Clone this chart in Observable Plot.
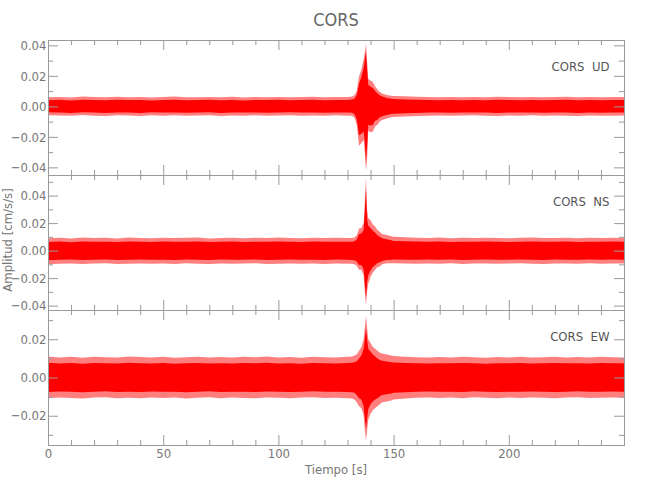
<!DOCTYPE html>
<html><head><meta charset="utf-8">
<script src="https://cdn.jsdelivr.net/npm/d3@7"></script>
<script src="https://cdn.jsdelivr.net/npm/@observablehq/plot@0.6"></script>
<style>
body{margin:0;background:#fff;}
#wrap{position:relative;width:650px;height:500px;overflow:hidden;font-family:"DejaVu Sans",sans-serif;font-stretch:condensed;color:#777;}
.pnl{position:absolute;left:0;}
#title{position:absolute;left:48px;width:576px;top:10px;line-height:20px;text-align:center;font-size:18px;color:#666;}
#xlab{position:absolute;left:48px;width:576px;top:462px;line-height:16px;text-align:center;font-size:13px;color:#777;}
#ylab{position:absolute;left:-92px;width:200px;top:232px;line-height:16px;text-align:center;font-size:13px;color:#777;transform:rotate(-90deg);}
svg text{white-space:pre;font-stretch:condensed;}
</style></head>
<body><div id="wrap">
<div id="title">CORS</div>
<div id="ylab">Amplitud [cm/s/s]</div>
<div id="xlab">Tiempo [s]</div>
</div>
<script>
// time samples (s) of the amplitude envelopes
const time = [0,5,10,15,20,25,30,35,40,45,50,55,60,65,70,75,80,85,90,95,100,105,110,115,120,125,130,
  132,133,134,135,136,137,137.5,138,138.5,139,140,141,142,143,144,145,147,149,
  150,155,160,165,170,175,180,185,190,195,200,205,210,215,220,225,230,235,240,245,250];

// UD component: outer envelope (upper/lower) and dense core envelope
const udHi = [0.0060,0.0062,0.0058,0.0064,0.0061,0.0059,0.0063,0.0060,0.0062,0.0058,0.0061,0.0064,0.0060,0.0059,0.0062,0.0060,0.0063,0.0058,0.0061,0.0060,0.0062,0.0059,0.0061,0.0063,0.0060,0.0062,0.0061,
  0.0065,0.0072,0.0100,0.0195,0.0240,0.0310,0.0350,0.0410,0.0300,0.0180,0.0170,0.0160,0.0130,0.0110,0.0095,0.0085,0.0075,0.0070,
  0.0068,0.0066,0.0063,0.0061,0.0060,0.0062,0.0059,0.0061,0.0060,0.0063,0.0061,0.0059,0.0062,0.0060,0.0061,0.0063,0.0060,0.0062,0.0059,0.0061,0.0062];
const udLo = [-0.0058,-0.0060,-0.0062,-0.0057,-0.0061,-0.0063,-0.0059,-0.0060,-0.0064,-0.0058,-0.0061,-0.0059,-0.0062,-0.0060,-0.0058,-0.0063,-0.0060,-0.0061,-0.0059,-0.0062,-0.0060,-0.0058,-0.0061,-0.0060,-0.0062,-0.0059,-0.0061,
  -0.0062,-0.0075,-0.0120,-0.0260,-0.0240,-0.0220,-0.0300,-0.0420,-0.0350,-0.0160,-0.0170,-0.0165,-0.0130,-0.0120,-0.0100,-0.0090,-0.0080,-0.0072,
  -0.0070,-0.0066,-0.0064,-0.0061,-0.0060,-0.0062,-0.0060,-0.0059,-0.0061,-0.0063,-0.0060,-0.0061,-0.0059,-0.0062,-0.0060,-0.0061,-0.0063,-0.0060,-0.0062,-0.0061,-0.0060];
const udCoreHi = [0.0040,0.0043,0.0039,0.0044,0.0041,0.0040,0.0043,0.0041,0.0042,0.0039,0.0041,0.0044,0.0040,0.0041,0.0043,0.0040,0.0042,0.0039,0.0041,0.0042,0.0043,0.0040,0.0041,0.0044,0.0040,0.0042,0.0041,
  0.0045,0.0050,0.0075,0.0150,0.0190,0.0250,0.0300,0.0360,0.0240,0.0140,0.0130,0.0120,0.0100,0.0085,0.0072,0.0065,0.0055,0.0050,
  0.0048,0.0045,0.0043,0.0041,0.0040,0.0042,0.0040,0.0041,0.0040,0.0043,0.0041,0.0040,0.0042,0.0040,0.0041,0.0043,0.0040,0.0042,0.0040,0.0041,0.0042];
const udCoreLo = [-0.0039,-0.0041,-0.0043,-0.0038,-0.0041,-0.0043,-0.0040,-0.0041,-0.0044,-0.0039,-0.0041,-0.0040,-0.0042,-0.0041,-0.0039,-0.0043,-0.0040,-0.0041,-0.0040,-0.0042,-0.0041,-0.0039,-0.0041,-0.0040,-0.0042,-0.0040,-0.0041,
  -0.0042,-0.0050,-0.0085,-0.0190,-0.0180,-0.0165,-0.0230,-0.0360,-0.0260,-0.0120,-0.0125,-0.0120,-0.0095,-0.0088,-0.0072,-0.0065,-0.0057,-0.0050,
  -0.0049,-0.0045,-0.0043,-0.0041,-0.0040,-0.0042,-0.0040,-0.0040,-0.0041,-0.0043,-0.0040,-0.0041,-0.0040,-0.0042,-0.0040,-0.0041,-0.0043,-0.0040,-0.0042,-0.0041,-0.0040];

// NS component
const nsHi = [0.0090,0.0094,0.0088,0.0095,0.0091,0.0093,0.0089,0.0096,0.0092,0.0090,0.0094,0.0091,0.0093,0.0095,0.0089,0.0092,0.0094,0.0090,0.0093,0.0091,0.0095,0.0092,0.0090,0.0094,0.0091,0.0093,0.0092,
  0.0092,0.0096,0.0110,0.0160,0.0165,0.0200,0.0350,0.0530,0.0300,0.0235,0.0220,0.0190,0.0175,0.0150,0.0138,0.0120,0.0114,0.0105,
  0.0100,0.0097,0.0094,0.0092,0.0095,0.0090,0.0093,0.0091,0.0094,0.0092,0.0090,0.0093,0.0095,0.0091,0.0092,0.0094,0.0090,0.0093,0.0091,0.0094,0.0092];
const nsLo = [-0.0100,-0.0096,-0.0093,-0.0098,-0.0094,-0.0092,-0.0097,-0.0095,-0.0093,-0.0096,-0.0094,-0.0098,-0.0092,-0.0095,-0.0097,-0.0093,-0.0096,-0.0094,-0.0092,-0.0097,-0.0095,-0.0093,-0.0096,-0.0094,-0.0097,-0.0093,-0.0095,
  -0.0095,-0.0100,-0.0110,-0.0140,-0.0140,-0.0180,-0.0300,-0.0395,-0.0300,-0.0240,-0.0190,-0.0160,-0.0140,-0.0120,-0.0116,-0.0100,-0.0092,-0.0092,
  -0.0092,-0.0094,-0.0096,-0.0093,-0.0095,-0.0092,-0.0097,-0.0094,-0.0093,-0.0096,-0.0094,-0.0092,-0.0095,-0.0097,-0.0093,-0.0094,-0.0096,-0.0092,-0.0095,-0.0093,-0.0094];
const nsCoreHi = [0.0063,0.0066,0.0061,0.0067,0.0064,0.0065,0.0062,0.0067,0.0064,0.0063,0.0066,0.0064,0.0065,0.0067,0.0062,0.0064,0.0066,0.0063,0.0065,0.0064,0.0067,0.0064,0.0063,0.0066,0.0064,0.0065,0.0064,
  0.0065,0.0068,0.0080,0.0120,0.0125,0.0150,0.0280,0.0450,0.0230,0.0180,0.0165,0.0145,0.0130,0.0112,0.0100,0.0090,0.0082,0.0075,
  0.0070,0.0068,0.0066,0.0064,0.0067,0.0063,0.0065,0.0064,0.0066,0.0064,0.0063,0.0065,0.0067,0.0064,0.0064,0.0066,0.0063,0.0065,0.0064,0.0066,0.0064];
const nsCoreLo = [-0.0070,-0.0067,-0.0065,-0.0069,-0.0066,-0.0064,-0.0068,-0.0067,-0.0065,-0.0067,-0.0066,-0.0069,-0.0064,-0.0067,-0.0068,-0.0065,-0.0067,-0.0066,-0.0064,-0.0068,-0.0067,-0.0065,-0.0067,-0.0066,-0.0068,-0.0065,-0.0067,
  -0.0068,-0.0070,-0.0080,-0.0105,-0.0105,-0.0135,-0.0240,-0.0340,-0.0230,-0.0180,-0.0145,-0.0120,-0.0105,-0.0090,-0.0085,-0.0075,-0.0068,-0.0066,
  -0.0064,-0.0066,-0.0067,-0.0065,-0.0067,-0.0064,-0.0068,-0.0066,-0.0065,-0.0067,-0.0066,-0.0064,-0.0067,-0.0068,-0.0065,-0.0066,-0.0067,-0.0064,-0.0067,-0.0065,-0.0066];

// EW component
const ewHi = [0.0110,0.0105,0.0108,0.0103,0.0109,0.0106,0.0104,0.0110,0.0107,0.0105,0.0108,0.0103,0.0106,0.0109,0.0105,0.0107,0.0104,0.0108,0.0106,0.0110,0.0105,0.0107,0.0103,0.0108,0.0106,0.0104,0.0108,
  0.0110,0.0115,0.0120,0.0140,0.0160,0.0200,0.0260,0.0320,0.0260,0.0200,0.0180,0.0160,0.0150,0.0140,0.0130,0.0125,0.0120,0.0115,
  0.0112,0.0108,0.0106,0.0104,0.0107,0.0105,0.0109,0.0106,0.0103,0.0107,0.0105,0.0108,0.0104,0.0106,0.0109,0.0105,0.0107,0.0104,0.0108,0.0106,0.0105];
const ewLo = [-0.0108,-0.0104,-0.0107,-0.0110,-0.0105,-0.0103,-0.0108,-0.0106,-0.0109,-0.0104,-0.0107,-0.0105,-0.0110,-0.0106,-0.0103,-0.0108,-0.0105,-0.0107,-0.0109,-0.0104,-0.0106,-0.0108,-0.0105,-0.0103,-0.0107,-0.0106,-0.0108,
  -0.0110,-0.0115,-0.0130,-0.0150,-0.0160,-0.0200,-0.0270,-0.0330,-0.0280,-0.0220,-0.0190,-0.0170,-0.0160,-0.0150,-0.0140,-0.0130,-0.0125,-0.0120,
  -0.0115,-0.0110,-0.0106,-0.0104,-0.0107,-0.0105,-0.0108,-0.0103,-0.0106,-0.0109,-0.0105,-0.0107,-0.0104,-0.0106,-0.0108,-0.0105,-0.0103,-0.0107,-0.0106,-0.0104,-0.0106];
const ewCoreHi = [0.0077,0.0073,0.0076,0.0072,0.0076,0.0074,0.0073,0.0077,0.0075,0.0073,0.0076,0.0072,0.0074,0.0076,0.0073,0.0075,0.0073,0.0076,0.0074,0.0077,0.0073,0.0075,0.0072,0.0076,0.0074,0.0073,0.0076,
  0.0077,0.0080,0.0085,0.0100,0.0115,0.0150,0.0200,0.0260,0.0200,0.0150,0.0135,0.0120,0.0110,0.0100,0.0092,0.0088,0.0084,0.0080,
  0.0078,0.0076,0.0074,0.0073,0.0075,0.0074,0.0076,0.0074,0.0072,0.0075,0.0074,0.0076,0.0073,0.0074,0.0076,0.0074,0.0075,0.0073,0.0076,0.0074,0.0074];
const ewCoreLo = [-0.0076,-0.0073,-0.0075,-0.0077,-0.0074,-0.0072,-0.0076,-0.0074,-0.0076,-0.0073,-0.0075,-0.0074,-0.0077,-0.0074,-0.0072,-0.0076,-0.0074,-0.0075,-0.0076,-0.0073,-0.0074,-0.0076,-0.0074,-0.0072,-0.0075,-0.0074,-0.0076,
  -0.0077,-0.0080,-0.0092,-0.0108,-0.0115,-0.0150,-0.0210,-0.0270,-0.0215,-0.0165,-0.0140,-0.0125,-0.0115,-0.0108,-0.0100,-0.0092,-0.0088,-0.0084,
  -0.0080,-0.0077,-0.0074,-0.0073,-0.0075,-0.0074,-0.0076,-0.0072,-0.0074,-0.0076,-0.0074,-0.0075,-0.0073,-0.0074,-0.0076,-0.0074,-0.0072,-0.0075,-0.0074,-0.0073,-0.0074];

// axes
const xDomain = [0, 250];
const xMajor = [0, 50, 100, 150, 200, 250];
const xMinor = d3.range(10, 250, 10).filter(v => v % 50 !== 0);
const xLabels = [0, 50, 100, 150, 200];

const panels = [
  {name: "CORS  UD", hi: udHi, lo: udLo, chi: udCoreHi, clo: udCoreLo, domain: [-0.045, 0.0435],
   major: [-0.04, -0.02, 0, 0.02, 0.04], minor: [-0.03, -0.01, 0.01, 0.03], top: 40},
  {name: "CORS  NS", hi: nsHi, lo: nsLo, chi: nsCoreHi, clo: nsCoreLo, domain: [-0.0432, 0.055],
   major: [-0.04, -0.02, 0, 0.02, 0.04], minor: [-0.03, -0.01, 0.01, 0.03, 0.05], top: 175},
  {name: "CORS  EW", hi: ewHi, lo: ewLo, chi: ewCoreHi, clo: ewCoreLo, domain: [-0.0353, 0.0353],
   major: [-0.02, 0, 0.02], minor: [-0.03, -0.01, 0.01, 0.03], top: 310}
];

const H = 135, ML = 48, MR = 26, W = 650 - ML - MR;
const axisColor = "#9a9a9a";
const wrap = document.getElementById("wrap");

panels.forEach((p, idx) => {
  const last = idx === panels.length - 1;
  const mt = 5, mb = last ? 30 : 5;
  const data = time.map((t, i) => ({t, hi: p.hi[i], lo: p.lo[i], chi: p.chi[i], clo: p.clo[i]}));
  const marks = [
    Plot.areaY(data, {x: "t", y1: "lo", y2: "hi", fill: "#ff0000", fillOpacity: 0.5, clip: true}),
    Plot.areaY(data, {x: "t", y1: "clo", y2: "chi", fill: "#ff0000", clip: true}),
    Plot.frame({stroke: axisColor}),
    Plot.ruleX(xMinor, {stroke: axisColor, insetTop: H - 5}),
    Plot.ruleX(xMajor, {stroke: axisColor, insetTop: H - 10}),
    Plot.ruleX(xMinor, {stroke: axisColor, insetBottom: H - 5}),
    Plot.ruleX(xMajor, {stroke: axisColor, insetBottom: H - 10}),
    Plot.ruleY(p.minor, {stroke: axisColor, insetRight: W - 5}),
    Plot.ruleY(p.major, {stroke: axisColor, insetRight: W - 10}),
    Plot.ruleY(p.minor, {stroke: axisColor, insetLeft: W - 5}),
    Plot.ruleY(p.major, {stroke: axisColor, insetLeft: W - 10}),
    Plot.axisY({ticks: p.major, tickSize: 0, tickPadding: 2, tickFormat: d3.format(".2f"), label: null, fontSize: 13}),
    Plot.text([p.name], {frameAnchor: "top-right", dx: -15, dy: 21, fill: "#555", fontSize: 13, textAnchor: "end"})
  ];
  if (last) marks.push(Plot.axisX({ticks: xLabels, tickSize: 0, tickPadding: 3, tickFormat: d => String(d), label: null, fontSize: 13}));
  const chart = Plot.plot({
    width: 650, height: H + mt + mb,
    marginLeft: ML, marginRight: MR, marginTop: mt, marginBottom: mb,
    x: {domain: xDomain, axis: null},
    y: {domain: p.domain, axis: null},
    style: {background: "transparent", fontFamily: "'DejaVu Sans',sans-serif", color: "#777", overflow: "visible"},
    marks
  });
  chart.classList.add("pnl");
  chart.style.top = (p.top - mt) + "px";
  wrap.appendChild(chart);
});
</script>
</body></html>
